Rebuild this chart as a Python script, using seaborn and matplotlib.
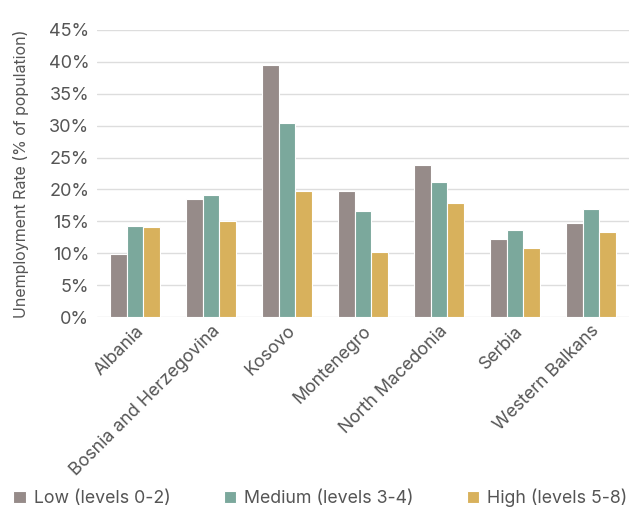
import matplotlib
matplotlib.use('Agg')
import matplotlib.pyplot as plt
import matplotlib.ticker as mtick
import pandas as pd
import seaborn as sns

# ── Data ────────────────────────────────────────────────────────
countries = ['Albania', 'Bosnia and Herzegovina', 'Kosovo', 'Montenegro',
             'North Macedonia', 'Serbia', 'Western Balkans']
levels = ['Low (levels 0-2)', 'Medium (levels 3-4)', 'High (levels 5-8)']
low    = [9.8, 18.5, 39.5, 19.7, 23.8, 12.2, 14.7]
medium = [14.3, 19.1, 30.4, 16.6, 21.1, 13.7, 17.0]
high   = [14.1, 15.0, 19.7, 10.2, 17.8, 10.8, 13.3]

df = pd.DataFrame({'Country': countries * 3,
                   'Level': [levels[0]] * 7 + [levels[1]] * 7 + [levels[2]] * 7,
                   'Rate': low + medium + high})

palette = ['#968b89', '#7ba89c', '#d8b15c']
txt = '#555555'

sns.set_style('white')
plt.rcParams['font.family'] = ['Inter', 'DejaVu Sans']

fig = plt.figure(figsize=(6.29, 5.08), dpi=100)
ax = fig.add_axes([97 / 629, 1 - 317 / 508, 532 / 629, 287 / 508])

sns.barplot(data=df, x='Country', y='Rate', hue='Level', palette=palette,
            saturation=1, width=0.66, edgecolor='white', linewidth=0.8,
            ax=ax, zorder=3)

ax.set_ylim(0, 45)
ax.set_xlim(-0.5, 6.5)
ax.yaxis.set_major_locator(mtick.MultipleLocator(5))
ax.yaxis.set_major_formatter(mtick.PercentFormatter(decimals=0))
ax.grid(True, axis='y', color='#dddddd', lw=1, zorder=0)
for s in ax.spines.values():
    s.set_visible(False)

ax.tick_params(axis='y', labelsize=13, colors=txt, length=0, pad=5.5)
ax.tick_params(axis='x', labelsize=12.8, colors=txt, length=0, pad=4)
plt.setp(ax.get_xticklabels(), rotation=45, ha='right', rotation_mode='anchor')
ax.set_xlabel('')
ax.set_ylabel('Unemployment Rate (% of population)', fontsize=11.5,
              color=txt, labelpad=14)

handles, labels = ax.get_legend_handles_labels()
ax.get_legend().remove()
fig.legend(handles, labels, loc='lower left', bbox_to_anchor=(-0.004, -0.03),
           ncol=3, frameon=False, fontsize=12.8, labelcolor=txt,
           handlelength=0.68, handleheight=0.68, handletextpad=0.45,
           columnspacing=3.0)

fig.savefig('out.png', dpi=100)
